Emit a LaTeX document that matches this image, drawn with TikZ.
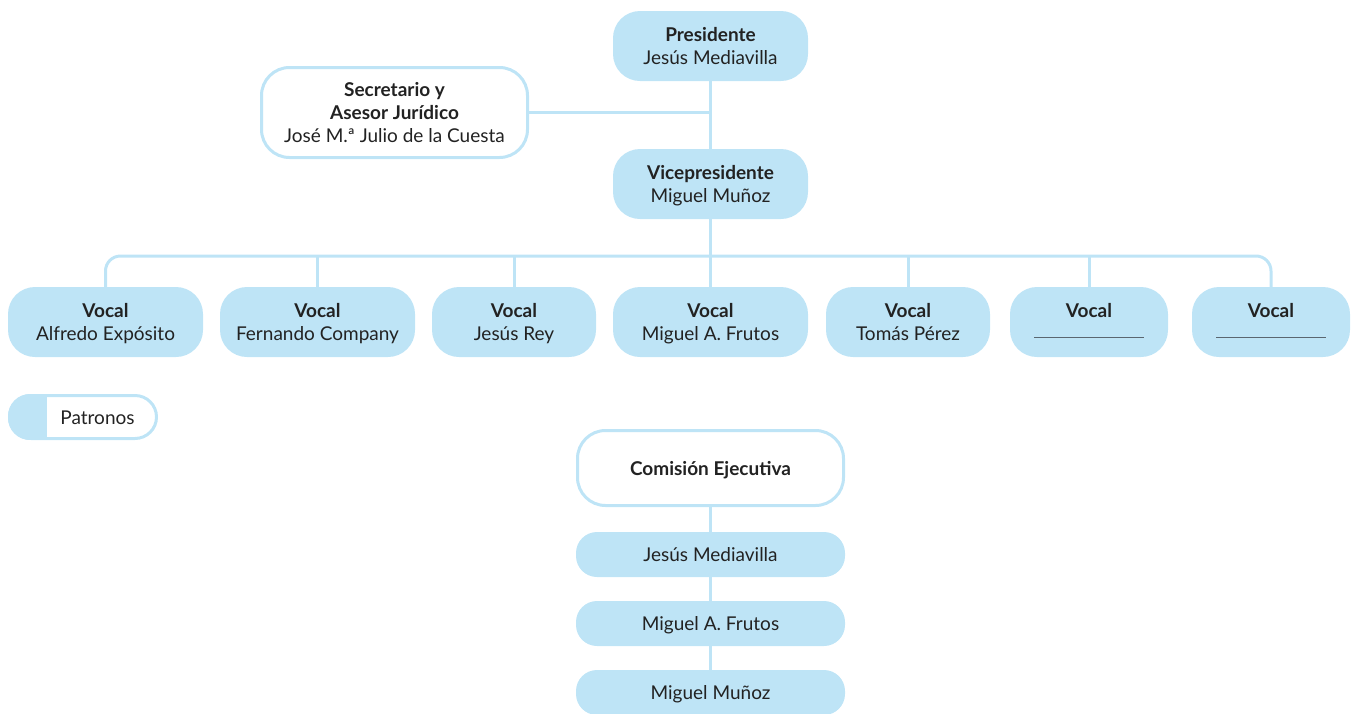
\documentclass[tikz,border=0pt]{standalone}
\usepackage{fontspec}
\setmainfont{Lato}
\definecolor{lb}{HTML}{BEE4F6}
\definecolor{tx}{HTML}{222222}
\definecolor{rl}{HTML}{5A6670}
\newcommand\tstrut{\rule{0pt}{18.6pt}}
\newcommand\bstrut{\rule[-4.4pt]{0pt}{4.4pt}}
\begin{document}
\begin{tikzpicture}[x=1pt,y=-1pt,
  every node/.style={text=tx,font=\fontsize{19}{23}\selectfont,align=center,inner sep=0pt},
  fbox/.style={fill=lb,rounded corners=27pt,minimum height=70pt},
  wbox/.style={fill=white,draw=lb,line width=3pt,rounded corners=28pt},
  sbox/.style={fill=lb,rounded corners=21pt,minimum width=269pt,minimum height=45pt},
  conn/.style={draw=lb,line width=3pt}]
\useasboundingbox (0,0) rectangle (1355,713);
\def\blank{\textcolor{rl}{\rule[0.3ex]{110pt}{1.2pt}}}
% top
\node[fbox,minimum width=195pt] (pres) at (710.5,46) {\tstrut\textbf{Presidente}\\Jesús Mediavilla\bstrut};
\node[wbox,minimum width=266pt,minimum height=90pt] (sec) at (394.5,112.5) {\tstrut\textbf{Secretario y}\\\textbf{Asesor Jurídico}\\José M.ª Julio de la Cuesta\bstrut};
\node[fbox,minimum width=195pt] (vice) at (710.5,184) {\tstrut\textbf{Vicepresidente}\\Miguel Muñoz\bstrut};
% vocales
\node[fbox,minimum width=195pt] (v1) at (105.5,322) {\tstrut\textbf{Vocal}\\Alfredo Expósito\bstrut};
\node[fbox,minimum width=195pt] (v2) at (317.5,322) {\tstrut\textbf{Vocal}\\Fernando Company\bstrut};
\node[fbox,minimum width=164pt] (v3) at (514,322) {\tstrut\textbf{Vocal}\\Jesús Rey\bstrut};
\node[fbox,minimum width=195pt] (v4) at (710.5,322) {\tstrut\textbf{Vocal}\\Miguel A. Frutos\bstrut};
\node[fbox,minimum width=164pt] (v5) at (908,322) {\tstrut\textbf{Vocal}\\Tomás Pérez\bstrut};
\node[fbox,minimum width=158pt] (v6) at (1089,322) {\tstrut\textbf{Vocal}\\\blank\bstrut};
\node[fbox,minimum width=158pt] (v7) at (1271,322) {\tstrut\textbf{Vocal}\\\blank\bstrut};
% connectors
\coordinate (bus) at (710.5,256);
\draw[conn] (pres.south) -- (vice.north);
\draw[conn] (sec.east) -- (sec.east -| pres.south);
\draw[conn] (vice.south) -- (bus);
\draw[conn,rounded corners=15pt] (v1.north) -- (v1.north |- bus) -- (v7.north |- bus) -- (v7.north);
\foreach \v in {v2,v3,v4,v5,v6}{\draw[conn] (\v.north |- bus) -- (\v.north);}
% legend
\begin{scope}
\clip[rounded corners=22pt] (8,394) rectangle (158,440);
\fill[lb] (8,394) rectangle (47,440);
\end{scope}
\draw[lb,line width=3pt,rounded corners=21.5pt] (9.5,395.5) rectangle (156.5,438.5);
\node (pat) at (97.5,417) {\tstrut Patronos\bstrut};
% comision
\node[wbox,minimum width=266pt,minimum height=75pt] (com) at (710.5,468) {\tstrut\textbf{Comisión Ejecutiva}\bstrut};
\node[sbox] (c1) at (710.5,554.5) {\tstrut Jesús Mediavilla\bstrut};
\node[sbox] (c2) at (710.5,623.5) {\tstrut Miguel A. Frutos\bstrut};
\node[sbox] (c3) at (710.5,692.5) {\tstrut Miguel Muñoz\bstrut};
\draw[conn] (com.south) -- (c1.north);
\draw[conn] (c1.south) -- (c2.north);
\draw[conn] (c2.south) -- (c3.north);
\end{tikzpicture}
\end{document}
